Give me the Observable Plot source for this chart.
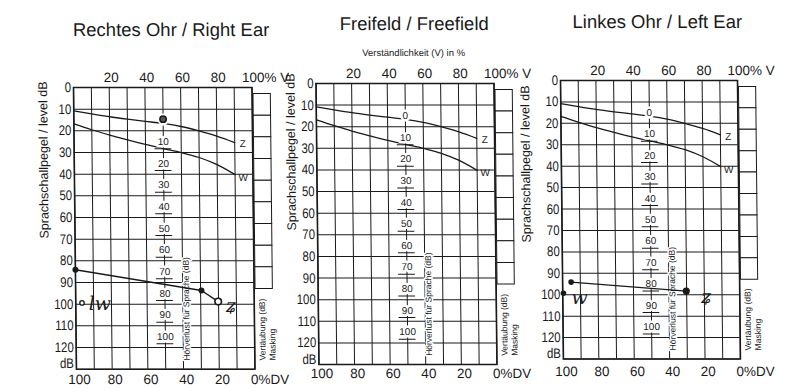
<!DOCTYPE html>
<html><head><meta charset="utf-8">
<script src="https://cdn.jsdelivr.net/npm/d3@7"></script>
<script src="https://cdn.jsdelivr.net/npm/@observablehq/plot@0.6"></script>
<style>
body{margin:0;background:#fff;}
#wrap{position:relative;width:800px;height:388px;overflow:hidden;background:#fff;}
#wrap svg{position:absolute;left:0;top:0;background:transparent;overflow:visible;}
</style></head><body><div id="wrap"></div>
<script>
// ---- data ----
const titles = ["Rechtes Ohr / Right Ear", "Freifeld / Freefield", "Linkes Ohr / Left Ear"];
const vTicks = [20, 40, 60, 80];            // Verständlichkeit (V) %
const dvTicks = [100, 80, 60, 40, 20];      // DV %
const levelTicks = [0, 10, 20, 30, 40, 50, 60, 70, 80, 90, 100, 110, 120];
const gridV = [0, 10, 20, 30, 40, 50, 60, 70, 80, 90, 100];
const gridLevel = [0, 10, 20, 30, 40, 50, 60, 70, 80, 90, 100, 110, 120, 130];
const hlTicks = [0, 10, 20, 30, 40, 50, 60, 70, 80, 90, 100]; // Hörverlust für Sprache
const maskRows = [3, 13, 23, 33, 43, 53, 63, 73, 83];          // Vertäubung boxes
const curveV = [0, 10, 20, 30, 40, 50, 60, 70, 80, 90];
const zLevel = [10.8, 12.2, 13.5, 14.6, 15.6, 16.6, 18.0, 20.0, 22.4, 25.4];
const wLevel = [16.8, 19.5, 22.0, 24.2, 26.3, 28.2, 30.0, 32.3, 35.6, 40.2];
// Right ear measurements
const rightV = [0, 70.5, 79.8];
const rightLevel = [84.1, 93.7, 98.8];
const rightOpenV = [3.5];
const rightOpenLevel = [99.4];
const rightMarkV = [50];
const rightMarkLevel = [14.6];
// Left ear measurements
const leftV = [4.8, 69.8];
const leftLevel = [94.1, 98.3];
const leftSingleV = [0.4];
const leftSingleLevel = [99.3];
// handwritten notes
const rightNotes = [{v: 13.5, level: 100, t: "lw"}, {v: 87, level: 101, t: "ʑ"}];
const leftNotes = [{v: 9.5, level: 101.5, t: "w"}, {v: 81, level: 101, t: "ʑ"}];

const FONT = "Liberation Sans, Arial, Helvetica, sans-serif";
const INK = "#1a1a1a";

const panels = [
  {x0: 73, x100: 251.5, y0: 87, y130: 368.7, title: titles[0], tx: 55, tdy: -57,
   yl: {dx: -30.5, dy: -6}, bdy: 10, freefield: false, side: "right"},
  {x0: 315.5, x100: 493.5, y0: 83, y130: 364, title: titles[1], tx: 55.5, tdy: -59,
   yl: {dx: -25.5, dy: -10}, bdy: 9, freefield: true, side: null},
  {x0: 560, x100: 737, y0: 80, y130: 358.5, title: titles[2], tx: 55, tdy: -58.5,
   yl: {dx: -35.5, dy: 5}, bdy: 13, freefield: false, side: "left"}
];

const zData = curveV.map((v, i) => ({v, level: zLevel[i]}));
const wData = curveV.map((v, i) => ({v, level: wLevel[i]}));

function panel(cfg) {
  const M = {lineAnchor: "middle", fill: INK};
  const marks = [
    // grid
    Plot.ruleX(gridV, {x: d => d, y1: 0, y2: 130, stroke: INK, strokeWidth: 1}),
    Plot.ruleY(gridLevel, {y: d => d, x1: 0, x2: 100, stroke: INK, strokeWidth: 1}),
    Plot.frame({stroke: INK, strokeWidth: 1.6}),
    // masking boxes
    Plot.rect(maskRows, {x1: 100.8, x2: 110.5, y1: d => d, y2: d => d + 10, fill: "white", stroke: INK, strokeWidth: 1}),
    // curves Z and W
    Plot.line(zData, {x: "v", y: "level", stroke: INK, strokeWidth: 1.3, curve: "monotone-x"}),
    Plot.line(wData, {x: "v", y: "level", stroke: INK, strokeWidth: 1.3, curve: "monotone-x"}),
    Plot.text([{t: "Z", v: 94.5, level: zLevel[zLevel.length - 1] + 0.8}, {t: "W", v: 94.5, level: wLevel[wLevel.length - 1] + 1.3}],
      {x: "v", y: "level", text: "t", fontSize: 10, ...M}),
    // hearing loss scale
    Plot.text(hlTicks, {x: 50, y: d => d + 15, text: d => String(d), fontSize: 10, ...M, stroke: "white", strokeWidth: 5, paintOrder: "stroke"}),
    Plot.ruleY(hlTicks.slice(1), {y: d => d + 18.3, x1: 45.3, x2: 54.7, stroke: INK, strokeWidth: 1}),
    Plot.text(["Hörverlust für Sprache (dB)"], {x: 62, y: 126, rotate: -90, textAnchor: "start", fontSize: 8.5, ...M, stroke: "white", strokeWidth: 3, paintOrder: "stroke"}),
    // masking labels
    Plot.text(["Vertäubung (dB)"], {frameAnchor: "right", y: 126, dx: 8, rotate: -90, textAnchor: "start", fontSize: 8.5, ...M}),
    Plot.text(["Masking"], {frameAnchor: "right", y: 126, dx: 18, rotate: -90, textAnchor: "start", fontSize: 8.5, ...M}),
    // top axis (V %)
    Plot.text(vTicks, {x: d => d, frameAnchor: "top", dy: -10, dx: 2, fontSize: 13.5, ...M}),
    Plot.text(["100% V"], {x: 100, frameAnchor: "top", dy: -10, dx: -10, textAnchor: "start", fontSize: 13.5, ...M}),
    // bottom axis (DV %)
    Plot.text(dvTicks, {x: d => 100 - d, frameAnchor: "bottom", dy: cfg.bdy, dx: 3, fontSize: 13.5, ...M}),
    Plot.text(["0%DV"], {x: 100, frameAnchor: "bottom", dy: cfg.bdy, dx: -4, textAnchor: "start", fontSize: 13.5, ...M}),
    // left axis
    Plot.text(levelTicks, {y: d => d, frameAnchor: "left", dx: -2.5, textAnchor: "end", fontSize: 14, ariaDescription: "ytick", ...M}),
    Plot.text(["dB"], {y: 127.5, frameAnchor: "left", dx: -2.5, textAnchor: "end", fontSize: 14, ariaDescription: "ytick", ...M}),
    Plot.text(["Sprachschallpegel / level dB"], {frameAnchor: "top-left", dx: cfg.yl.dx, dy: cfg.yl.dy, rotate: -90, textAnchor: "end", fontSize: 12.5, ...M}),
    // title
    Plot.text([cfg.title], {x: cfg.tx, frameAnchor: "top", dy: cfg.tdy, fontSize: 18.5, ...M})
  ];
  if (cfg.freefield) {
    marks.push(Plot.text(["Verständlichkeit (V) in %"], {x: 55, frameAnchor: "top", dy: -31, fontSize: 9.5, ...M}));
  }
  if (cfg.side === "right") {
    const pts = rightV.map((v, i) => ({v, level: rightLevel[i]}));
    marks.push(
      Plot.line(pts, {x: "v", y: "level", stroke: INK, strokeWidth: 1.4}),
      Plot.dot(pts.slice(0, 2), {x: "v", y: "level", r: 3, fill: INK}),
      Plot.dot(pts.slice(2), {x: "v", y: "level", r: 3.3, fill: "white", stroke: INK, strokeWidth: 1.6}),
      Plot.dot(rightOpenV.map((v, i) => ({v, level: rightOpenLevel[i]})), {x: "v", y: "level", r: 2.2, fill: "white", stroke: INK, strokeWidth: 1.3}),
      Plot.dot(rightMarkV.map((v, i) => ({v, level: rightMarkLevel[i]})), {x: "v", y: "level", r: 3.2, fill: "#555", stroke: INK}),
      Plot.text(rightNotes, {x: "v", y: "level", text: "t", fontSize: 19, fontStyle: "italic", fontFamily: "DejaVu Serif, serif", ...M})
    );
  }
  if (cfg.side === "left") {
    const pts = leftV.map((v, i) => ({v, level: leftLevel[i]}));
    marks.push(
      Plot.line(pts, {x: "v", y: "level", stroke: INK, strokeWidth: 1.4}),
      Plot.dot(pts.slice(0, 1), {x: "v", y: "level", r: 2.8, fill: INK}),
      Plot.dot(pts.slice(1), {x: "v", y: "level", r: 3.6, fill: INK}),
      Plot.dot(leftSingleV.map((v, i) => ({v, level: leftSingleLevel[i]})), {x: "v", y: "level", r: 2.8, fill: INK}),
      Plot.text(leftNotes, {x: "v", y: "level", text: "t", fontSize: 19, fontStyle: "italic", fontFamily: "DejaVu Serif, serif", ...M})
    );
  }
  const svg = Plot.plot({
    width: 800, height: 388,
    marginLeft: cfg.x0, marginRight: 800 - cfg.x100,
    marginTop: cfg.y0, marginBottom: 388 - cfg.y130,
    x: {domain: [0, 100], axis: null},
    y: {domain: [0, 130], reverse: true, axis: null},
    style: {background: "transparent", fontFamily: FONT, overflow: "visible"},
    marks
  });
  // slight lean of the scanned sheet
  svg.style.transformOrigin = `0px ${cfg.y0}px`;
  svg.style.transform = "skewX(0.6deg)";
  return svg;
}

const wrap = document.getElementById("wrap");
for (const cfg of panels) {
  const svg = panel(cfg);
  wrap.appendChild(svg);
  // condense the level tick labels like the printed form
  svg.querySelectorAll('g[aria-description="ytick"] text').forEach(t => {
    const w = t.getComputedTextLength();
    t.setAttribute("textLength", (w * 0.82).toFixed(2));
    t.setAttribute("lengthAdjust", "spacingAndGlyphs");
  });
}
</script></body></html>
